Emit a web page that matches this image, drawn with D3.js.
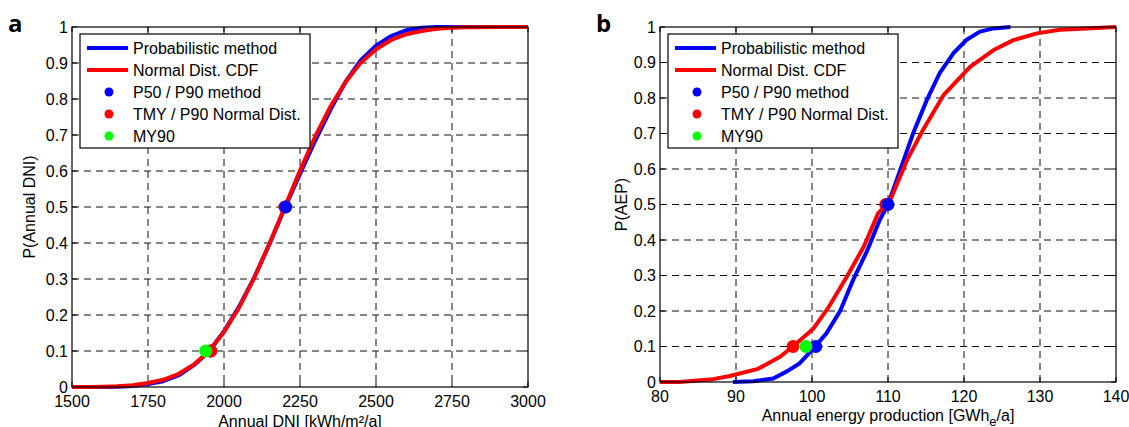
<!DOCTYPE html>
<html>
<head>
<meta charset="utf-8">
<script src="https://cdn.jsdelivr.net/npm/d3@7"></script>
<style>
body { margin: 0; background: #fff; }
text { font-family: "Liberation Sans", Arial, sans-serif; fill: #000; }
</style>
</head>
<body>
<svg id="chart" width="1129" height="427"></svg>
<script>

// ---- data ----
let legendLabels = ["Probabilistic method", "Normal Dist. CDF", "P50 / P90 method", "TMY / P90 Normal Dist.", "MY90"];
let yTicks = [0, 0.1, 0.2, 0.3, 0.4, 0.5, 0.6, 0.7, 0.8, 0.9, 1];

// panel a : annual DNI
let dniTicks = [1500, 1750, 2000, 2250, 2500, 2750, 3000];
let dniX     = [1500, 1550, 1600, 1650, 1700, 1750, 1800, 1850, 1900, 1950, 2000, 2050, 2100, 2150, 2200, 2250, 2300, 2350, 2400, 2450, 2500, 2550, 2600, 2650, 2700, 2750, 2800, 2900, 3000];
let dniProb  = [0, 0, 0, 0.001, 0.003, 0.008, 0.016, 0.032, 0.060, 0.098, 0.155, 0.224, 0.305, 0.398, 0.497, 0.592, 0.684, 0.770, 0.848, 0.908, 0.948, 0.975, 0.991, 0.998, 1, 1, 1, 1, 1];
let dniNorm  = [0, 0, 0.001, 0.002, 0.005, 0.011, 0.020, 0.036, 0.062, 0.099, 0.153, 0.221, 0.304, 0.399, 0.500, 0.601, 0.696, 0.779, 0.847, 0.901, 0.938, 0.964, 0.980, 0.989, 0.995, 0.998, 0.999, 1, 1];
// markers: [x, P, colour] in drawing order
let dniMarkers = [[2200, 0.5, "red"], [2203, 0.5, "blue"], [1955, 0.1, "blue"], [1957, 0.1, "red"], [1940, 0.1, "lime"]];

// panel b : annual energy production
let aepTicks = [80, 90, 100, 110, 120, 130, 140];
let aepProbX = [89.6, 92.3, 94.9, 96.7, 98.4, 100.2, 101.9, 103.7, 105.4, 107.2, 108.9, 110.0, 111.6, 113.3, 115.1, 116.8, 118.6, 120.4, 122.1, 123.9, 126.1];
let aepProbP = [0, 0.002, 0.01, 0.03, 0.053, 0.095, 0.137, 0.2, 0.287, 0.367, 0.456, 0.5, 0.597, 0.70, 0.794, 0.87, 0.926, 0.965, 0.987, 0.996, 1];
let aepNormX = [80, 82.6, 87.0, 89.2, 92.9, 95.8, 97.5, 100.2, 102.1, 104.6, 106.8, 108.7, 110.3, 112.5, 114.6, 117.3, 120.8, 123.9, 126.5, 129.6, 132.6, 136.1, 140];
let aepNormP = [0, 0, 0.008, 0.017, 0.037, 0.071, 0.10, 0.151, 0.208, 0.297, 0.381, 0.475, 0.513, 0.625, 0.71, 0.808, 0.888, 0.935, 0.963, 0.982, 0.992, 0.996, 1];
let aepMarkers = [[109.7, 0.5, "red"], [110.0, 0.5, "blue"], [97.5, 0.1, "red"], [100.5, 0.1, "blue"], [99.2, 0.1, "lime"]];

let svg = d3.select("#chart");
svg.append("rect").attr("width", 1129).attr("height", 427).attr("fill", "#fff");

function draw_panel(p){

    let x = d3.scaleLinear().domain([p.ticks[0], p.ticks[p.ticks.length-1]]).range([p.left, p.right]);
    let y = d3.scaleLinear().domain([0, 1]).range([p.bottom, p.top]);
    let g = svg.append("g");

    // dashed grid
    g.selectAll(".gx").data(p.ticks.slice(1, -1)).enter().append("line")
        .attr("x1", d => x(d)).attr("x2", d => x(d))
        .attr("y1", p.top).attr("y2", p.bottom)
        .attr("stroke", "#111").attr("stroke-dasharray", "7,5");
    g.selectAll(".gy").data(yTicks.slice(1, -1)).enter().append("line")
        .attr("y1", d => y(d)).attr("y2", d => y(d))
        .attr("x1", p.left).attr("x2", p.right)
        .attr("stroke", "#111").attr("stroke-dasharray", "7,5");

    // inward tick marks on all four sides
    p.ticks.forEach(function(t){
        g.append("line").attr("x1", x(t)).attr("x2", x(t)).attr("y1", p.bottom).attr("y2", p.bottom - 5).attr("stroke", "#000");
        g.append("line").attr("x1", x(t)).attr("x2", x(t)).attr("y1", p.top).attr("y2", p.top + 5).attr("stroke", "#000");
    });
    yTicks.forEach(function(t){
        g.append("line").attr("y1", y(t)).attr("y2", y(t)).attr("x1", p.left).attr("x2", p.left + 5).attr("stroke", "#000");
        g.append("line").attr("y1", y(t)).attr("y2", y(t)).attr("x1", p.right).attr("x2", p.right - 5).attr("stroke", "#000");
    });

    // tick labels
    g.selectAll(".tx").data(p.ticks).enter().append("text")
        .attr("x", d => x(d)).attr("y", p.bottom + 20)
        .attr("text-anchor", "middle").style("font-size", "16px")
        .text(d => d);
    g.selectAll(".ty").data(yTicks).enter().append("text")
        .attr("x", p.left - 4).attr("y", d => y(d)).attr("dy", "0.36em")
        .attr("text-anchor", "end").style("font-size", "16px")
        .text(d => d);

    // curves
    let line = d3.line().x(d => x(d[0])).y(d => y(d[1]));
    p.curves.forEach(function(c){
        g.append("path")
            .datum(d3.zip(c.x, c.y))
            .attr("d", line)
            .attr("fill", "none")
            .attr("stroke", c.color)
            .attr("stroke-width", 4)
            .attr("stroke-linejoin", "round");
    });

    // frame
    g.append("rect")
        .attr("x", p.left).attr("y", p.top)
        .attr("width", p.right - p.left).attr("height", p.bottom - p.top)
        .attr("fill", "none").attr("stroke", "#000").attr("stroke-width", 1.2);

    // markers
    g.selectAll(".mk").data(p.markers).enter().append("circle")
        .attr("cx", d => x(d[0])).attr("cy", d => y(d[1])).attr("r", 6.5)
        .attr("fill", d => d[2]);

    // legend
    let lx = p.left + 8, ly = 34;
    let lg = g.append("g").attr("transform", "translate(" + lx + "," + ly + ")");
    lg.append("rect").attr("width", 230).attr("height", 114)
        .attr("fill", "#fff").attr("stroke", "#000").attr("stroke-width", 1.2);
    let legColors = ["blue", "red", "blue", "red", "lime"];
    legendLabels.forEach(function(lab, i){
        let yy = 14 + i * 22;
        if (i < 2){
            lg.append("line").attr("x1", 7).attr("x2", 48).attr("y1", yy).attr("y2", yy)
                .attr("stroke", legColors[i]).attr("stroke-width", 4);
        } else {
            lg.append("circle").attr("cx", 29).attr("cy", yy).attr("r", 4.5).attr("fill", legColors[i]);
        }
        lg.append("text").attr("x", 53).attr("y", yy).attr("dy", "0.36em")
            .style("font-size", "16px").text(lab);
    });

    // axis titles
    g.append("text")
        .attr("transform", "translate(" + p.ylabelX + "," + ((p.top + p.bottom) / 2) + ") rotate(-90)")
        .attr("text-anchor", "middle").style("font-size", "16px")
        .text(p.ylabel);
    let xl = g.append("text")
        .attr("x", (p.left + p.right) / 2).attr("y", p.xlabelY)
        .attr("text-anchor", "middle").style("font-size", "16px");
    p.xlabel(xl);

    // panel letter
    g.append("text").attr("x", p.letterX).attr("y", 32)
        .style("font-family", "'Open Sans', sans-serif").style("font-weight", "bold").style("font-size", "24px")
        .text(p.letter);
}

draw_panel({
    left: 72, right: 528, top: 27, bottom: 387,
    ticks: dniTicks,
    curves: [{x: dniX, y: dniProb, color: "blue"}, {x: dniX, y: dniNorm, color: "red"}],
    markers: dniMarkers,
    ylabel: "P(Annual DNI)", ylabelX: 35,
    xlabelY: 427,
    xlabel: t => t.text("Annual DNI [kWh/m²/a]"),
    letter: "a", letterX: 8
});

draw_panel({
    left: 660, right: 1116, top: 27, bottom: 382,
    ticks: aepTicks,
    curves: [{x: aepProbX, y: aepProbP, color: "blue"}, {x: aepNormX, y: aepNormP, color: "red"}],
    markers: aepMarkers,
    ylabel: "P(AEP)", ylabelX: 627,
    xlabelY: 421,
    xlabel: function(t){
        t.append("tspan").text("Annual energy production [GWh");
        t.append("tspan").attr("dy", 5).style("font-size", "13px").text("e");
        t.append("tspan").attr("dy", -5).text("/a]");
    },
    letter: "b", letterX: 596
});

</script>
</body>
</html>
